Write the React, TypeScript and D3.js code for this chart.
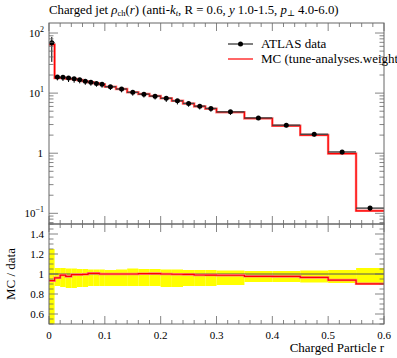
import * as d3 from "d3";

// bin edges in r
const edges = [
  0, 0.01, 0.02, 0.03, 0.04, 0.05, 0.06, 0.07, 0.08, 0.09, 0.1,
  0.12, 0.14, 0.16, 0.18, 0.2, 0.22, 0.24, 0.26, 0.28, 0.3,
  0.35, 0.4, 0.45, 0.5, 0.55, 0.6,
];

// ATLAS data per bin
const dataVals = [
  68.9, 18.5, 18.3, 17.8, 17.3, 16.7, 15.8, 15.1, 14.5, 14.0,
  12.8, 11.7, 10.3, 9.6, 8.9, 8.2, 7.45, 6.74, 6.07, 5.56,
  4.88, 3.87, 2.93, 2.07, 1.05, 0.122,
];

// relative data uncertainty (up / down)
const errUp = [
  0.25, 0.06, 0.06, 0.055, 0.055, 0.05, 0.05, 0.045, 0.045, 0.045,
  0.04, 0.045, 0.055, 0.05, 0.05, 0.045, 0.045, 0.04, 0.04, 0.04,
  0.035, 0.03, 0.03, 0.035, 0.04, 0.06,
];
const errDn = [
  0.52, 0.12, 0.13, 0.14, 0.14, 0.13, 0.13, 0.12, 0.12, 0.12,
  0.12, 0.12, 0.12, 0.12, 0.12, 0.13, 0.13, 0.12, 0.12, 0.12,
  0.11, 0.08, 0.08, 0.085, 0.09, 0.095,
];

// MC prediction per bin
const mcVals = [
  64.3, 17.8, 18.1, 17.36, 17.2, 16.6, 15.75, 15.2, 14.6, 14.0,
  12.8, 11.7, 10.3, 9.63, 8.94, 8.2, 7.43, 6.71, 6.01, 5.5,
  4.82, 3.78, 2.86, 2.0, 0.986, 0.11,
];

const xTicks = [0, 0.1, 0.2, 0.3, 0.4, 0.5, 0.6];
const ratioTicks = [0.6, 0.8, 1, 1.2, 1.4];

const W = 397;
const H = 358;
const left = 49;
const right = 384;
const mainTop = 23;
const mainBot = 224;
const ratioBot = 324;
const font = "Liberation Serif, DejaVu Serif, serif";
const frame = "#666";

const App = () => {
  const x = d3.scaleLinear().domain([0, 0.6]).range([left, right]);
  const y = d3.scaleLog().domain([0.0664, 146.8]).range([mainBot, mainTop]);
  const yr = d3.scaleLinear().domain([0.5, 1.5]).range([ratioBot, mainBot]);

  const bins = dataVals.map((v, i) => ({
    x0: edges[i],
    x1: edges[i + 1],
    v,
    mc: mcVals[i],
    up: errUp[i],
    dn: errDn[i],
  }));

  // step path through the bins
  const stepPath = (vals: number[], sy: (v: number) => number) => {
    let p = "";
    vals.forEach((v, i) => {
      const a = x(edges[i]);
      const b = x(edges[i + 1]);
      p += (i === 0 ? `M${a},${sy(v)}` : `L${a},${sy(v)}`) + `L${b},${sy(v)}`;
    });
    return p;
  };

  const ratioVals = bins.map((b) => b.mc / b.v);

  // minor ticks
  const xMinor = d3.range(0, 0.6001, 0.02);
  const logMinor: number[] = [];
  [0.01, 0.1, 1, 10, 100].forEach((d) => {
    for (let k = 1; k < 10; k++) {
      const v = d * k;
      if (v >= 0.0664 && v <= 146.8) logMinor.push(v);
    }
  });
  const rMinor = d3.range(0.5, 1.5001, 0.05);

  return (
    <svg
      width={W}
      height={H}
      style={{ position: "absolute", left: 0, top: 0, background: "#fff", fontFamily: font }}
    >
      <defs>
        <clipPath id="clipMain">
          <rect x={left} y={mainTop} width={right - left} height={mainBot - mainTop} />
        </clipPath>
        <clipPath id="clipRatio">
          <rect x={left} y={mainBot} width={right - left} height={ratioBot - mainBot} />
        </clipPath>
      </defs>

      {/* title */}
      <text x={left} y={14} fontSize={12.8}>
        Charged jet <tspan fontStyle="italic">ρ</tspan>
        <tspan fontSize={8.5} dy={2}>ch</tspan>
        <tspan dy={-2}>(</tspan>
        <tspan fontStyle="italic">r</tspan>) (anti-<tspan fontStyle="italic">k</tspan>
        <tspan fontSize={8.5} fontStyle="italic" dy={2}>t</tspan>
        <tspan dy={-2}>, R = 0.6, </tspan>
        <tspan fontStyle="italic">y</tspan> 1.0-1.5, <tspan fontStyle="italic">p</tspan>
        <tspan fontSize={8.5} dy={2}>⊥</tspan>
        <tspan dy={-2}> 4.0-6.0)</tspan>
      </text>

      {/* ratio band */}
      <g clipPath="url(#clipRatio)">
        {bins.map((b, i) => (
          <rect
            key={i}
            x={x(b.x0)}
            width={x(b.x1) - x(b.x0)}
            y={yr(1 + b.up)}
            height={yr(1 - b.dn) - yr(1 + b.up)}
            fill="#ffff00"
          />
        ))}
        <line x1={left} x2={right} y1={yr(1)} y2={yr(1)} stroke="#555" strokeWidth={1} />
        <path d={stepPath(ratioVals, yr)} fill="none" stroke="#ff8080" strokeWidth={2.5} />
        <path d={stepPath(ratioVals, yr)} fill="none" stroke="#ff0000" strokeWidth={1.2} />
      </g>

      {/* main panel */}
      <g clipPath="url(#clipMain)">
        <path d={stepPath(mcVals, y)} fill="none" stroke="#ff8080" strokeWidth={2.5} />
        <path d={stepPath(mcVals, y)} fill="none" stroke="#ff0000" strokeWidth={1.2} />
        {bins.map((b, i) => {
          const cx = x((b.x0 + b.x1) / 2);
          return (
            <g key={i}>
              <line x1={x(b.x0)} x2={x(b.x1)} y1={y(b.v)} y2={y(b.v)} stroke="#444" strokeWidth={1.4} />
              <line x1={cx} x2={cx} y1={y(b.v * (1 + b.up))} y2={y(b.v * (1 - b.dn))} stroke="#000" strokeWidth={1} />
              <circle cx={cx} cy={y(b.v)} r={2.5} fill="#000" />
            </g>
          );
        })}
      </g>

      {/* frames */}
      <rect x={left} y={mainTop} width={right - left} height={mainBot - mainTop} fill="none" stroke={frame} strokeWidth={1} />
      <rect x={left} y={mainBot} width={right - left} height={ratioBot - mainBot} fill="none" stroke={frame} strokeWidth={1} />

      {/* x ticks */}
      {xMinor.map((t, i) => {
        const major = Math.abs(Math.round(t * 10) - t * 10) < 1e-6;
        const len = major ? 8 : 4;
        const px = x(t);
        return (
          <g key={i} stroke={frame} strokeWidth={0.8}>
            <line x1={px} x2={px} y1={mainTop} y2={mainTop + len} />
            <line x1={px} x2={px} y1={mainBot} y2={mainBot - len} />
            <line x1={px} x2={px} y1={mainBot} y2={mainBot + len} />
            <line x1={px} x2={px} y1={ratioBot} y2={ratioBot - len} />
          </g>
        );
      })}

      {/* log y ticks */}
      {logMinor.map((v, i) => {
        const major = Math.abs(Math.log10(v) - Math.round(Math.log10(v))) < 1e-6;
        const len = major ? 9 : 4.5;
        const py = y(v);
        return (
          <g key={i} stroke={frame} strokeWidth={0.8}>
            <line x1={left} x2={left + len} y1={py} y2={py} />
            <line x1={right} x2={right - len} y1={py} y2={py} />
          </g>
        );
      })}

      {/* ratio y ticks */}
      {rMinor.map((v, i) => {
        const major = Math.abs(v * 5 - Math.round(v * 5)) < 1e-6;
        const len = major ? 9 : 4.5;
        const py = yr(v);
        return (
          <g key={i} stroke={frame} strokeWidth={0.8}>
            <line x1={left} x2={left + len} y1={py} y2={py} />
            <line x1={right} x2={right - len} y1={py} y2={py} />
          </g>
        );
      })}

      {/* main y labels */}
      <g fontSize={11} textAnchor="end">
        {[2, 1, -1].map((e) => (
          <text key={e} x={44} y={y(Math.pow(10, e)) + 3.5}>
            10<tspan fontSize={8} dy={-4.5}>{e < 0 ? `−${-e}` : `${e}`}</tspan>
          </text>
        ))}
        <text x={43} y={y(1) + 3.5}>1</text>
      </g>

      {/* ratio y labels */}
      <g fontSize={11} textAnchor="end">
        {ratioTicks.map((t) => (
          <text key={t} x={44} y={yr(t) + 3.5}>
            {d3.format("")(t)}
          </text>
        ))}
      </g>
      <text
        transform={`translate(15,${yr(1)}) rotate(-90)`}
        textAnchor="middle"
        fontSize={13}
      >
        MC / data
      </text>

      {/* x labels */}
      <g fontSize={11} textAnchor="middle">
        {xTicks.map((t) => (
          <text key={t} x={x(t)} y={339}>
            {d3.format("")(t)}
          </text>
        ))}
      </g>
      <text x={right} y={352} textAnchor="end" fontSize={13}>
        Charged Particle r
      </text>

      {/* legend */}
      <line x1={228} x2={253} y1={44} y2={44} stroke="#000" strokeWidth={1} />
      <circle cx={240.5} cy={44} r={2.5} fill="#000" />
      <text x={261} y={48} fontSize={13}>ATLAS data</text>
      <line x1={228} x2={253} y1={59} y2={59} stroke="#ff0000" strokeWidth={1.2} />
      <text x={261} y={63} fontSize={13}>MC (tune-analyses.weight</text>
    </svg>
  );
};

export default App;
